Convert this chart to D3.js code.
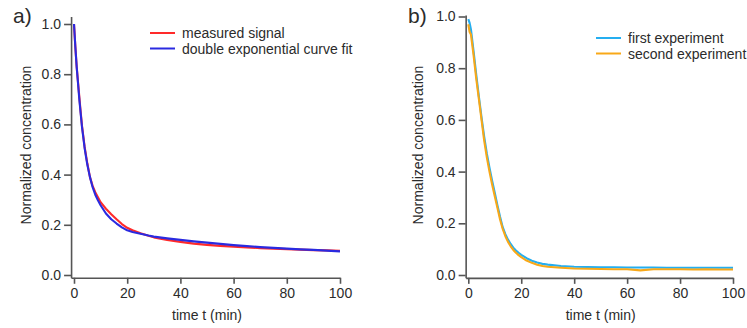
<!DOCTYPE html>
<html>
<head>
<meta charset="utf-8">
<script src="https://cdn.jsdelivr.net/npm/d3@7"></script>
<style>
  body { margin: 0; background: #fff; }
  text { font-family: "Liberation Sans", Arial, sans-serif; fill: #2b2b2b; }
</style>
</head>
<body>
<div id="chart"></div>
<script>
// panel a) data
var timeA = [0, 0.5, 1, 1.5, 2, 2.5, 3, 4, 5, 6, 7, 8, 9, 10, 12, 14, 16, 18, 20, 22, 25, 28, 30, 35, 40, 45, 50, 55, 60, 65, 70, 75, 80, 85, 90, 95, 100];
var measured = [1.0, 0.91, 0.83, 0.77, 0.71, 0.65, 0.595, 0.51, 0.445, 0.39, 0.355, 0.33, 0.31, 0.29, 0.264, 0.242, 0.222, 0.203, 0.188, 0.178, 0.166, 0.156, 0.150, 0.140, 0.132, 0.125, 0.120, 0.116, 0.113, 0.110, 0.107, 0.105, 0.103, 0.101, 0.099, 0.098, 0.096];
var curveFit = [1.0, 0.91, 0.83, 0.765, 0.70, 0.645, 0.59, 0.505, 0.44, 0.39, 0.35, 0.32, 0.298, 0.278, 0.245, 0.222, 0.205, 0.19, 0.178, 0.171, 0.164, 0.157, 0.153, 0.146, 0.140, 0.134, 0.129, 0.124, 0.119, 0.115, 0.111, 0.108, 0.105, 0.102, 0.100, 0.097, 0.094];

// panel b) data
var timeB = [0, 0.5, 1, 2, 3, 4, 5, 6, 7, 8, 9, 10, 11, 12, 13, 14, 15, 16, 17, 18, 19, 20, 22, 24, 26, 28, 30, 35, 40, 45, 50, 55, 60, 65, 70, 75, 80, 85, 90, 95, 100];
var firstExp = [0.99, 0.975, 0.95, 0.865, 0.775, 0.69, 0.61, 0.535, 0.47, 0.415, 0.365, 0.318, 0.27, 0.225, 0.185, 0.158, 0.137, 0.12, 0.106, 0.095, 0.086, 0.078, 0.065, 0.055, 0.048, 0.043, 0.04, 0.035, 0.032, 0.031, 0.030, 0.030, 0.029, 0.029, 0.029, 0.028, 0.028, 0.028, 0.028, 0.028, 0.028];
var secondExp = [0.97, 0.94, 0.93, 0.85, 0.76, 0.68, 0.60, 0.52, 0.455, 0.40, 0.35, 0.305, 0.26, 0.215, 0.178, 0.15, 0.128, 0.111, 0.097, 0.086, 0.077, 0.069, 0.056, 0.047, 0.04, 0.035, 0.032, 0.028, 0.025, 0.024, 0.023, 0.022, 0.022, 0.018, 0.022, 0.022, 0.022, 0.021, 0.022, 0.021, 0.021];

var xTicks = [0, 20, 40, 60, 80, 100];
var yTicks = [0, 0.2, 0.4, 0.6, 0.8, 1.0];

var width = 747;
var height = 328;

var svg = d3.select('#chart')
  .append("svg")
  .attr("width", width)
  .attr("height", height);

function panel(opts) {
  var x = d3.scaleLinear().domain([0, 100]).range([opts.x0, opts.x1]);
  var y = d3.scaleLinear().domain([0, 1]).range([275, opts.yTop]);

  // axes sit a little outside the data origin
  var xAxisScale = d3.scaleLinear().domain([opts.xStart, 100]).range([x(opts.xStart), x(100)]);
  var yAxisScale = d3.scaleLinear().domain([-0.011, opts.yEnd]).range([y(-0.011), y(opts.yEnd)]);

  var g = svg.append("g");

  var xAxis = g.append("g")
    .attr("transform", "translate(0," + y(-0.011) + ")")
    .call(d3.axisBottom(xAxisScale).tickValues(xTicks).tickSizeOuter(0).tickSizeInner(6).tickPadding(4)
      .tickFormat(d3.format("d")));

  var yAxis = g.append("g")
    .attr("transform", "translate(" + x(opts.xStart) + ",0)")
    .call(d3.axisLeft(yAxisScale).tickValues(yTicks).tickSizeOuter(0).tickSizeInner(7).tickPadding(3)
      .tickFormat(d3.format(".1f")));

  [xAxis, yAxis].forEach(function (a) {
    a.select(".domain").attr("stroke", "#555").attr("stroke-width", 1.6);
    a.selectAll(".tick line").attr("stroke", "#555").attr("stroke-width", 1.6);
    a.selectAll(".tick text").style("font-size", "14px").attr("fill", "#2b2b2b");
  });

  g.append("text")
    .attr("x", (x(0) + x(100)) / 2)
    .attr("y", 320)
    .attr("text-anchor", "middle")
    .style("font-size", "14px")
    .text("time t (min)");

  g.append("text")
    .attr("transform", "translate(" + opts.yTitleX + ",145) rotate(-90)")
    .attr("text-anchor", "middle")
    .style("font-size", "14px")
    .text("Normalized concentration");

  g.append("text")
    .attr("x", opts.labelX)
    .attr("y", 23)
    .style("font-size", "21px")
    .text(opts.label);

  var line = d3.line()
    .x(function (d) { return x(d[0]); })
    .y(function (d) { return y(d[1]); });

  opts.series.forEach(function (s) {
    var pts = opts.time.map(function (t, i) { return [t, s.values[i]]; });
    g.append("path")
      .datum(pts)
      .attr("fill", "none")
      .attr("stroke", s.color)
      .attr("stroke-width", 2.1)
      .attr("stroke-linejoin", "round")
      .attr("d", line);
  });

  // legend
  opts.series.forEach(function (s, i) {
    var ly = opts.legendY + i * 15.5;
    g.append("line")
      .attr("x1", opts.legendX).attr("x2", opts.legendX + 25)
      .attr("y1", ly).attr("y2", ly)
      .attr("stroke", s.color).attr("stroke-width", 2);
    g.append("text")
      .attr("x", opts.legendX + 32)
      .attr("y", ly + 5)
      .style("font-size", "14px")
      .text(s.name);
  });
}

panel({
  x0: 74, x1: 340, yTop: 24, xStart: -1.1, yEnd: 1.03,
  yTitleX: 31, labelX: 13, label: "a)",
  time: timeA, legendX: 150, legendY: 33,
  series: [
    { name: "measured signal", values: measured, color: "#ff2a2a" },
    { name: "double exponential curve fit", values: curveFit, color: "#2a2ae0" }
  ]
});

panel({
  x0: 468.3, x1: 733, yTop: 16.5, xStart: -1, yEnd: 1.006,
  yTitleX: 423, labelX: 408, label: "b)",
  time: timeB, legendX: 596, legendY: 38,
  series: [
    { name: "first experiment", values: firstExp, color: "#25aef0" },
    { name: "second experiment", values: secondExp, color: "#f8a818" }
  ]
});
</script>
</body>
</html>
